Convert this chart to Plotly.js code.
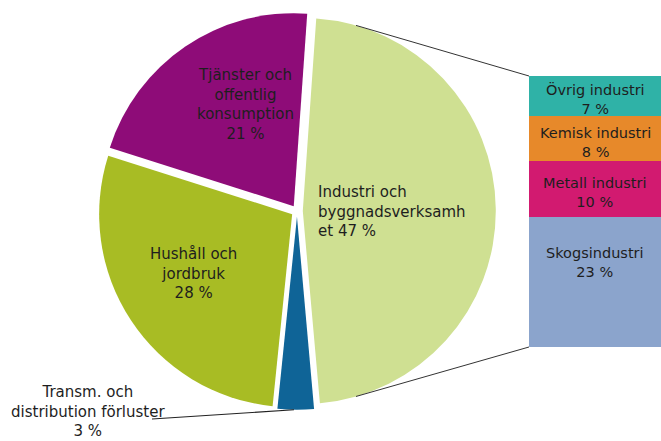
<!DOCTYPE html>
<html><head><meta charset="utf-8">
<script src="https://cdn.plot.ly/plotly-3.0.1.min.js"></script>
<style>html,body{margin:0;padding:0;background:#fff}</style>
</head><body><div id="chart" style="width:661px;height:441px"></div>
<script>
// ---- data ----
const pieLabels = ['Industri och byggnadsverksamhet', 'Transm. och distribution förluster', 'Hushåll och jordbruk', 'Tjänster och offentlig konsumption'];
const pieValues = [47, 3, 28, 21];
const pieTexts = ['Industri och<br>byggnadsverksamh<br>et 47 %', 'Transm. och<br>distribution förluster<br>3 %', 'Hushåll och<br>jordbruk<br>28 %', 'Tjänster och<br>offentlig<br>konsumption<br>21 %'];
const barLabels = ['Övrig industri', 'Kemisk industri', 'Metall industri', 'Skogsindustri'];
const barValues = [7, 8, 10, 23];
const barTexts = ['Övrig industri<br>7 %', 'Kemisk industri<br>8 %', 'Metall industri<br>10 %', 'Skogsindustri<br>23 %'];

// ---- styles / layout geometry ----
const pieColors = ['#cfe092', '#0f6497', '#a8bc24', '#8e0c78'];
const barColors = ['#2fb2a7', '#e7892a', '#d21a70', '#8ba4cc'];
const W = 661, H = 441;
const cx = 297, cy = 211, r = 193, pull = 0.03, rotation = 4;
const box = 2 * r * (1 + pull);
const pieDomX = [(cx - box / 2) / W, (cx + box / 2) / W];
const pieDomY = [1 - (cy + box / 2) / H, 1 - (cy - box / 2) / H];
const barLeftPx = 529, barTopPx = 76, barBottomPx = 347;
const total = barValues.reduce((a, b) => a + b, 0);
const pxPerUnit = (barBottomPx - barTopPx) / total;
const yRange = [-(H - barBottomPx) / pxPerUnit, total + barTopPx / pxPerUnit];
const labelShift = [-3, -4, -4, 20];
const pieLabelPos = [[316, 212, 'left'], [88, 411, 'center'], [193, 273, 'center'], [245, 104, 'center']];
const font = 'DejaVu Sans';
const txtColor = '#1e1e1e';

const px = x => x / W, py = y => 1 - y / H;

// pie angles
const pieSum = pieValues.reduce((a, b) => a + b, 0);
let acc = rotation;
const mids = pieValues.map(v => { const a0 = acc; acc += 360 * v / pieSum; return (a0 + acc) / 2; });
const rad = d => d * Math.PI / 180;
function slicePoint(i, ang) {
  const m = rad(mids[i]);
  const ccx = cx + pull * r * Math.sin(m), ccy = cy - pull * r * Math.cos(m);
  return [ccx + r * Math.sin(rad(ang)), ccy - r * Math.cos(rad(ang))];
}

const traces = [{
  type: 'pie', labels: pieLabels, values: pieValues, sort: false, direction: 'clockwise',
  rotation: rotation, textinfo: 'none', hoverinfo: 'none', pull: pull,
  marker: { colors: pieColors, line: { width: 0 } },
  domain: { x: pieDomX, y: pieDomY }, showlegend: false
}];
// stack bottom-up: reverse order
for (let i = barValues.length - 1; i >= 0; i--) {
  traces.push({
    type: 'bar', x: [0], y: [barValues[i]], width: 1, name: barLabels[i],
    marker: { color: barColors[i], line: { width: 0 } }, hoverinfo: 'none',
    xaxis: 'x', yaxis: 'y', showlegend: false
  });
}

const annotations = [];
pieTexts.forEach((t, i) => {
  const p = pieLabelPos[i];
  annotations.push({
    xref: 'paper', yref: 'paper', x: px(p[0]), y: py(p[1]), text: t, showarrow: false,
    xanchor: p[2], yanchor: 'middle', align: p[2],
    font: { family: font, size: 15, color: txtColor }
  });
});
// bar labels
let cum = total;
barValues.forEach((v, i) => {
  const mid = cum - v / 2; cum -= v;
  annotations.push({
    xref: 'x', yref: 'y', x: 0, y: mid, text: barTexts[i], showarrow: false,
    xanchor: 'center', yanchor: 'middle', align: 'center', yshift: labelShift[i],
    font: { family: font, size: 14.5, color: txtColor }
  });
});

const topP = slicePoint(0, 16), botP = slicePoint(0, 164);
const transP = slicePoint(1, mids[1] + 0.5);
const shapes = [
  { type: 'line', xref: 'paper', yref: 'paper', x0: px(topP[0]), y0: py(topP[1]), x1: px(barLeftPx), y1: py(barTopPx), line: { color: '#333', width: 1 } },
  { type: 'line', xref: 'paper', yref: 'paper', x0: px(botP[0]), y0: py(botP[1]), x1: px(barLeftPx), y1: py(barBottomPx), line: { color: '#333', width: 1 } },
  { type: 'line', xref: 'paper', yref: 'paper', x0: px(152), y0: py(419), x1: px(transP[0]), y1: py(transP[1]), line: { color: '#222', width: 1.2 } }
];

const layout = {
  width: W, height: H, margin: { l: 0, r: 0, t: 0, b: 0 },
  paper_bgcolor: '#fff', plot_bgcolor: 'rgba(0,0,0,0)', showlegend: false, barmode: 'stack',
  xaxis: { domain: [px(barLeftPx), 1], range: [-0.5, 0.5], visible: false, fixedrange: true },
  yaxis: { domain: [0, 1], range: yRange, visible: false, fixedrange: true },
  annotations: annotations, shapes: shapes
};
Plotly.newPlot('chart', traces, layout, { staticPlot: true });
</script></body></html>
